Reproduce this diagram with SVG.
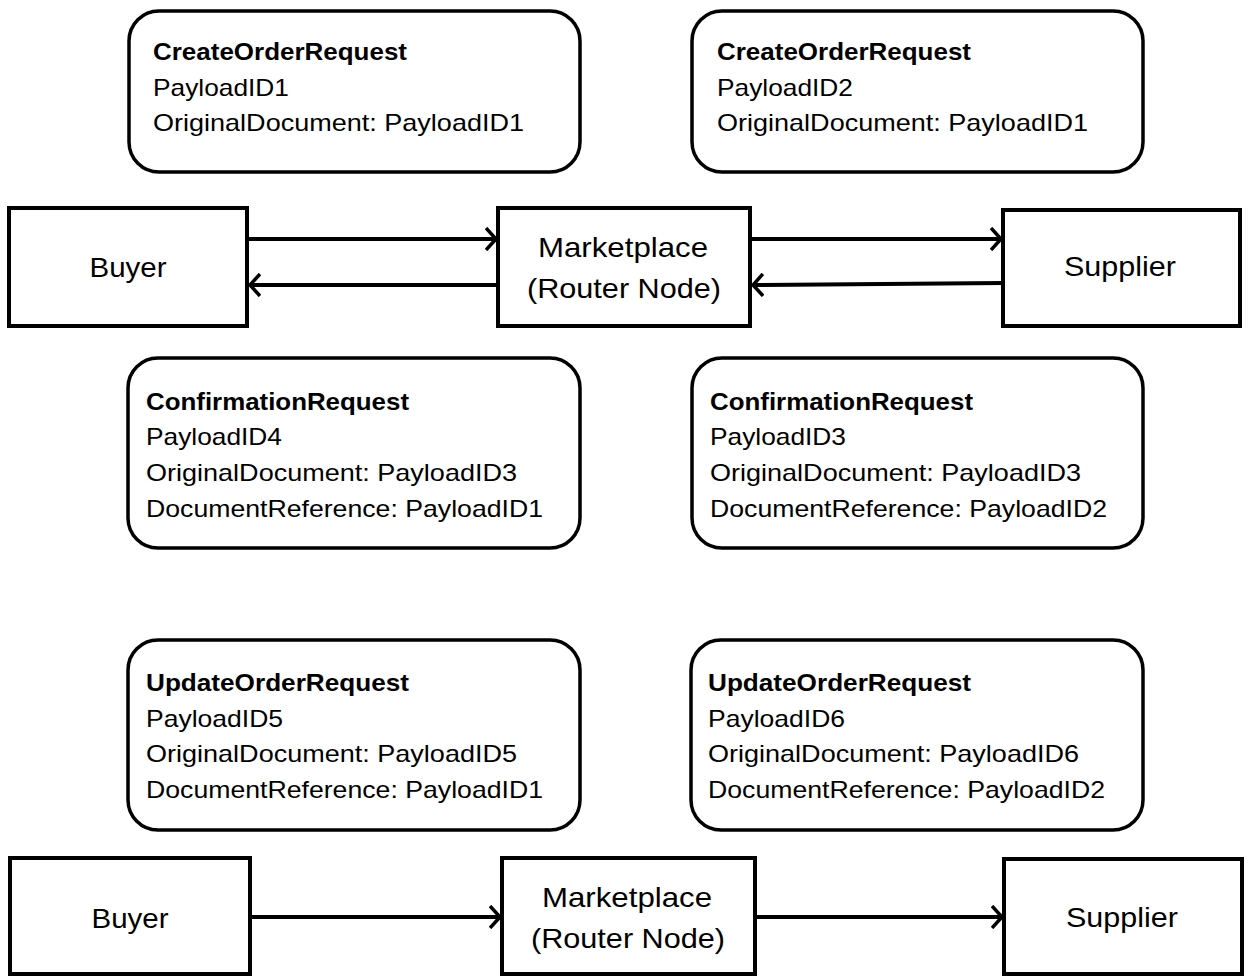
<svg xmlns="http://www.w3.org/2000/svg" width="1248" height="976" viewBox="0 0 1248 976">
<style>
.msg{fill:#fff;stroke:#000;stroke-width:3.5}
.node{fill:#fff;stroke:#000;stroke-width:4}
.t{font-family:"Liberation Sans",Arial,sans-serif;font-size:24px;fill:#000}
.b{font-weight:bold}
.n{font-family:"Liberation Sans",Arial,sans-serif;font-size:28px;fill:#000;text-anchor:middle}
.c{stroke:#000;stroke-width:4;fill:none}
</style>
<defs>
<marker id="arr" viewBox="0 0 12 24" refX="11" refY="12" markerWidth="12" markerHeight="24" markerUnits="userSpaceOnUse" orient="auto">
<path d="M1,1 L11,12 L1,23" fill="none" stroke="#000" stroke-width="3.5"/>
</marker>
</defs>
<g id="msg-create-1">
<rect class="msg" x="129" y="11" width="451" height="161" rx="30"/>
<text class="t b" x="153" y="60" textLength="254" lengthAdjust="spacingAndGlyphs">CreateOrderRequest</text>
<text class="t" x="153" y="96" textLength="136" lengthAdjust="spacingAndGlyphs">PayloadID1</text>
<text class="t" x="153" y="131" textLength="371" lengthAdjust="spacingAndGlyphs">OriginalDocument: PayloadID1</text>
</g>
<g id="msg-create-2">
<rect class="msg" x="692" y="11" width="451" height="161" rx="30"/>
<text class="t b" x="717" y="60" textLength="254" lengthAdjust="spacingAndGlyphs">CreateOrderRequest</text>
<text class="t" x="717" y="96" textLength="136" lengthAdjust="spacingAndGlyphs">PayloadID2</text>
<text class="t" x="717" y="131" textLength="371" lengthAdjust="spacingAndGlyphs">OriginalDocument: PayloadID1</text>
</g>
<g id="buyer-1">
<rect class="node" x="9" y="208" width="238" height="118"/>
<text class="n" x="128" y="277" textLength="77" lengthAdjust="spacingAndGlyphs">Buyer</text>
</g>
<g id="marketplace-1">
<rect class="node" x="498" y="208" width="252" height="118"/>
<text class="n" x="623" y="257" textLength="170" lengthAdjust="spacingAndGlyphs">Marketplace</text>
<text class="n" x="624" y="298" textLength="194" lengthAdjust="spacingAndGlyphs">(Router Node)</text>
</g>
<g id="supplier-1">
<rect class="node" x="1003" y="210" width="237" height="116"/>
<text class="n" x="1120" y="276" textLength="112" lengthAdjust="spacingAndGlyphs">Supplier</text>
</g>
<g id="msg-confirm-4">
<rect class="msg" x="128" y="358" width="452" height="190" rx="30"/>
<text class="t b" x="146" y="410" textLength="263" lengthAdjust="spacingAndGlyphs">ConfirmationRequest</text>
<text class="t" x="146" y="445" textLength="136" lengthAdjust="spacingAndGlyphs">PayloadID4</text>
<text class="t" x="146" y="481" textLength="371" lengthAdjust="spacingAndGlyphs">OriginalDocument: PayloadID3</text>
<text class="t" x="146" y="517" textLength="397" lengthAdjust="spacingAndGlyphs">DocumentReference: PayloadID1</text>
</g>
<g id="msg-confirm-3">
<rect class="msg" x="692" y="358" width="451" height="190" rx="30"/>
<text class="t b" x="710" y="410" textLength="263" lengthAdjust="spacingAndGlyphs">ConfirmationRequest</text>
<text class="t" x="710" y="445" textLength="136" lengthAdjust="spacingAndGlyphs">PayloadID3</text>
<text class="t" x="710" y="481" textLength="371" lengthAdjust="spacingAndGlyphs">OriginalDocument: PayloadID3</text>
<text class="t" x="710" y="517" textLength="397" lengthAdjust="spacingAndGlyphs">DocumentReference: PayloadID2</text>
</g>
<g id="msg-update-5">
<rect class="msg" x="128" y="640" width="452" height="190" rx="30"/>
<text class="t b" x="146" y="691" textLength="263" lengthAdjust="spacingAndGlyphs">UpdateOrderRequest</text>
<text class="t" x="146" y="727" textLength="137" lengthAdjust="spacingAndGlyphs">PayloadID5</text>
<text class="t" x="146" y="762" textLength="371" lengthAdjust="spacingAndGlyphs">OriginalDocument: PayloadID5</text>
<text class="t" x="146" y="798" textLength="397" lengthAdjust="spacingAndGlyphs">DocumentReference: PayloadID1</text>
</g>
<g id="msg-update-6">
<rect class="msg" x="691" y="640" width="452" height="190" rx="30"/>
<text class="t b" x="708" y="691" textLength="263" lengthAdjust="spacingAndGlyphs">UpdateOrderRequest</text>
<text class="t" x="708" y="727" textLength="137" lengthAdjust="spacingAndGlyphs">PayloadID6</text>
<text class="t" x="708" y="762" textLength="371" lengthAdjust="spacingAndGlyphs">OriginalDocument: PayloadID6</text>
<text class="t" x="708" y="798" textLength="397" lengthAdjust="spacingAndGlyphs">DocumentReference: PayloadID2</text>
</g>
<g id="buyer-2">
<rect class="node" x="10" y="858" width="240" height="116"/>
<text class="n" x="130" y="928" textLength="77" lengthAdjust="spacingAndGlyphs">Buyer</text>
</g>
<g id="marketplace-2">
<rect class="node" x="502" y="858" width="253" height="116"/>
<text class="n" x="627" y="907" textLength="170" lengthAdjust="spacingAndGlyphs">Marketplace</text>
<text class="n" x="628" y="948" textLength="194" lengthAdjust="spacingAndGlyphs">(Router Node)</text>
</g>
<g id="supplier-2">
<rect class="node" x="1004" y="859" width="238" height="115"/>
<text class="n" x="1122" y="927" textLength="112" lengthAdjust="spacingAndGlyphs">Supplier</text>
</g>
<g id="connectors">
<line class="c" x1="247" y1="239" x2="496" y2="239" marker-end="url(#arr)"/>
<line class="c" x1="498" y1="285" x2="250" y2="285" marker-end="url(#arr)"/>
<line class="c" x1="750" y1="239" x2="1001" y2="239" marker-end="url(#arr)"/>
<line class="c" x1="1003" y1="283" x2="753" y2="285" marker-end="url(#arr)"/>
<line class="c" x1="250" y1="917" x2="500" y2="917" marker-end="url(#arr)"/>
<line class="c" x1="755" y1="917" x2="1002" y2="917" marker-end="url(#arr)"/>
</g>
</svg>
